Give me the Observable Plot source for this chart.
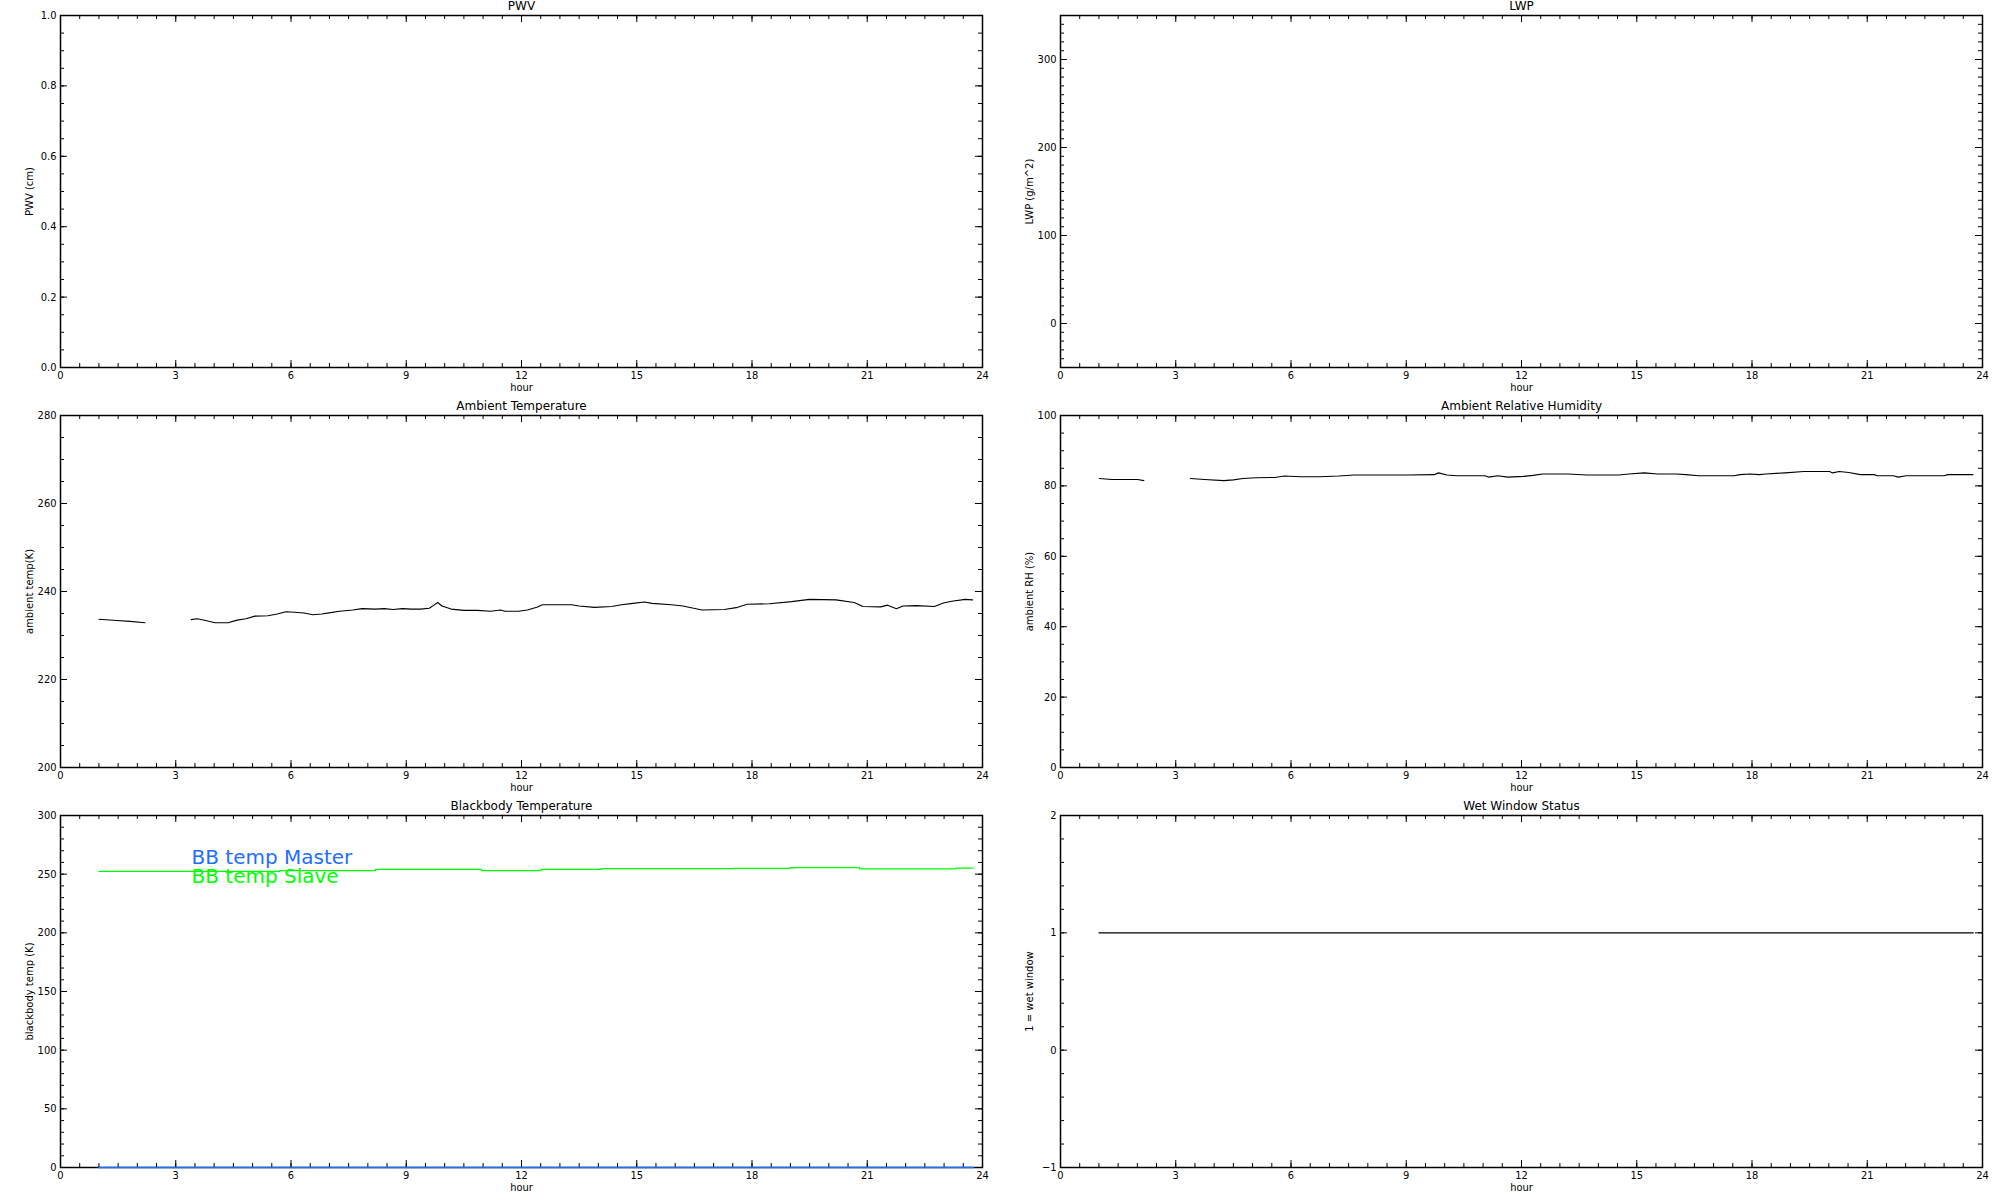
<!DOCTYPE html>
<html><head><meta charset="utf-8">
<script src="https://cdn.jsdelivr.net/npm/d3@7"></script>
<script src="https://cdn.jsdelivr.net/npm/@observablehq/plot@0.6"></script>
<style>
html,body{margin:0;padding:0;background:#fff;}
#grid{display:grid;grid-template-columns:1000px 1000px;grid-template-rows:400px 400px 400px;width:2000px;height:1200px;}
#grid svg{display:block;}
</style></head><body><div id="grid"></div>
<script>
// ---- axis ticks ----
const hourTicks = [0, 3, 6, 9, 12, 15, 18, 21, 24];
const pwvTicks = [0.0, 0.2, 0.4, 0.6, 0.8, 1.0];
const lwpTicks = [0, 100, 200, 300];
const tempTicks = [200, 220, 240, 260, 280];
const rhTicks = [0, 20, 40, 60, 80, 100];
const bbTicks = [0, 50, 100, 150, 200, 250, 300];
const wetTicks = [-1, 0, 1, 2];

// ---- ambient temperature (K) ----
const tempHour = [1.0,1.46,1.81,2.2,2.8,3.4,3.55,3.78,4.02,4.36,4.6,4.83,5.06,5.4,5.64,5.87,6.1,6.34,6.57,6.8,7.03,7.26,7.61,7.85,8.2,8.43,8.66,8.9,9.13,9.37,9.6,9.7,9.82,9.93,10.17,10.5,10.85,11.2,11.45,11.57,11.92,12.15,12.4,12.55,13.3,13.5,13.9,14.35,14.6,14.9,15.2,15.4,15.9,16.2,16.7,17.28,17.63,17.87,18.45,19.03,19.5,20.19,20.66,20.89,21.35,21.53,21.76,21.93,22.28,22.75,22.98,23.2,23.55,23.74];
const tempK = [233.7,233.4,233.2,232.9,null,233.6,233.8,233.4,232.9,232.9,233.5,233.8,234.4,234.5,234.9,235.4,235.3,235.1,234.7,234.9,235.2,235.5,235.8,236.1,236.0,236.1,235.9,236.1,236.0,236.0,236.2,236.8,237.5,236.7,236.0,235.7,235.7,235.5,235.8,235.5,235.5,235.8,236.4,237.0,237.0,236.7,236.4,236.6,237.0,237.3,237.6,237.3,237.0,236.7,235.8,235.9,236.4,237.1,237.2,237.7,238.2,238.1,237.5,236.6,236.5,236.9,236.1,236.7,236.8,236.6,237.4,237.8,238.2,238.1];

// ---- ambient relative humidity (%) ----
const rhHour = [1.01,1.34,2.01,2.17,2.8,3.38,3.75,4.25,4.5,4.75,5.08,5.58,5.83,6.24,6.74,7.24,7.65,8.4,9.06,9.73,9.84,10.06,10.31,11.05,11.14,11.38,11.64,12.05,12.3,12.55,13.21,13.71,14.54,14.79,15.2,15.54,16.03,16.28,16.61,17.53,17.69,17.94,18.19,18.36,18.86,19.35,20.02,20.1,20.27,20.52,20.82,21.18,21.26,21.68,21.81,22.01,23.0,23.09,23.75];
const rhPct = [82.1,81.8,81.8,81.5,null,82.1,81.8,81.5,81.7,82.1,82.3,82.4,82.8,82.6,82.6,82.8,83.1,83.1,83.1,83.2,83.7,83.1,82.9,82.9,82.5,82.9,82.5,82.7,83.0,83.4,83.4,83.1,83.1,83.4,83.7,83.4,83.4,83.2,82.9,82.9,83.2,83.4,83.2,83.4,83.7,84.1,84.1,83.7,84.1,83.8,83.2,83.2,82.9,82.9,82.5,82.9,82.9,83.2,83.2];

// ---- blackbody temperatures (K) ----
const bbSlaveHour = [1.0,5.7,8.2,10.96,12.52,14.07,17.5,19.0,20.8,23.3,23.76];
const bbSlaveK = [252.3,253.1,254.0,253.1,254.0,254.8,255.0,255.6,254.5,255.2,255.2];
const bbMasterHour = [1.0,23.76];
const bbMasterK = [0,0];
const legendLabels = ["BB temp Master","BB temp Slave"];
const legendColors = ["#1e6eff","#00ff00"];

// ---- wet window status ----
const wetHour = [1.0,23.76];
const wetFlag = [1,1];

const FONT = "'Liberation Sans Narrow','DejaVu Sans Condensed','Liberation Sans',sans-serif";
const LABFONT = "'DejaVu Sans','Liberation Sans',sans-serif";
const zip = (xs, ys) => xs.map((h, i) => ({h, v: ys[i]}));

function panel({title, ylabel, yDomain, yTicks, yMinorStep, yFormat, marks = []}) {
  const W = 1000, H = 400, ML = 60, MR = 18, MT = 15, MB = 33;
  const fw = W - ML - MR, fh = H - MT - MB;
  const minorX = d3.range(0, 24.0001, 0.5);
  const minorY = d3.range(yDomain[0], yDomain[1] + yMinorStep * 0.001, yMinorStep);
  return Plot.plot({
    width: W, height: H, marginLeft: ML, marginRight: MR, marginTop: MT, marginBottom: MB,
    style: {fontFamily: FONT, fontSize: "11px", background: "white", overflow: "visible", color: "black"},
    x: {domain: [0, 24]},
    y: {domain: yDomain},
    marks: [
      Plot.tickX(minorX, {x: d => d, insetTop: fh - 4, stroke: "black"}),
      Plot.tickX(minorX, {x: d => d, insetBottom: fh - 4, stroke: "black"}),
      Plot.tickX(hourTicks, {x: d => d, insetTop: fh - 7, stroke: "black"}),
      Plot.tickX(hourTicks, {x: d => d, insetBottom: fh - 7, stroke: "black"}),
      Plot.tickY(minorY, {y: d => d, insetRight: fw - 4, stroke: "black"}),
      Plot.tickY(minorY, {y: d => d, insetLeft: fw - 4, stroke: "black"}),
      Plot.tickY(yTicks, {y: d => d, insetRight: fw - 7, stroke: "black"}),
      Plot.tickY(yTicks, {y: d => d, insetLeft: fw - 7, stroke: "black"}),
      Plot.frame({stroke: "black", strokeWidth: 1.5}),
      Plot.axisX({ticks: hourTicks, tickSize: 0, tickPadding: 4, label: null, fontSize: 11}),
      Plot.axisY({ticks: yTicks, tickSize: 0, tickPadding: 4, label: null, tickFormat: yFormat, fontSize: 11}),
      Plot.text([title], {text: d => d, frameAnchor: "top", lineAnchor: "middle", textAnchor: "middle", dy: -9, fontSize: 12, fontFamily: LABFONT, fill: "black"}),
      Plot.text(["hour"], {text: d => d, frameAnchor: "bottom", lineAnchor: "middle", textAnchor: "middle", dy: 20, fontSize: 11, fill: "black"}),
      Plot.text([ylabel], {text: d => d, frameAnchor: "left", lineAnchor: "middle", textAnchor: "middle", dx: -31, rotate: -90, fontSize: 10, fontFamily: LABFONT, fill: "black"}),
      ...marks
    ]
  });
}

const fmt1 = d3.format(".1f");
const fmt0 = d3.format("d");
const grid = document.getElementById("grid");

grid.append(panel({title: "PWV", ylabel: "PWV (cm)", yDomain: [0, 1], yTicks: pwvTicks, yMinorStep: 0.05, yFormat: fmt1}));
grid.append(panel({title: "LWP", ylabel: "LWP (g/m^2)", yDomain: [-50, 350], yTicks: lwpTicks, yMinorStep: 10, yFormat: fmt0}));
grid.append(panel({title: "Ambient Temperature", ylabel: "ambient temp(K)", yDomain: [200, 280], yTicks: tempTicks, yMinorStep: 5, yFormat: fmt0,
  marks: [Plot.line(zip(tempHour, tempK), {x: "h", y: "v", stroke: "black", strokeWidth: 1.1})]}));
grid.append(panel({title: "Ambient Relative Humidity", ylabel: "ambient RH (%)", yDomain: [0, 100], yTicks: rhTicks, yMinorStep: 5, yFormat: fmt0,
  marks: [Plot.line(zip(rhHour, rhPct), {x: "h", y: "v", stroke: "black", strokeWidth: 1.1})]}));
grid.append(panel({title: "Blackbody Temperature", ylabel: "blackbody temp (K)", yDomain: [0, 300], yTicks: bbTicks, yMinorStep: 10, yFormat: fmt0,
  marks: [
    Plot.line(zip(bbMasterHour, bbMasterK), {x: "h", y: "v", stroke: legendColors[0], strokeWidth: 1.5}),
    Plot.line(zip(bbSlaveHour, bbSlaveK), {x: "h", y: "v", stroke: legendColors[1], strokeWidth: 1.2, curve: "step-after"}),
    Plot.text([legendLabels[0]], {text: d => d, frameAnchor: "top-left", lineAnchor: "middle", textAnchor: "start", dx: 131, dy: 42, fontSize: 20, fontFamily: LABFONT, fill: legendColors[0]}),
    Plot.text([legendLabels[1]], {text: d => d, frameAnchor: "top-left", lineAnchor: "middle", textAnchor: "start", dx: 131, dy: 61, fontSize: 20, fontFamily: LABFONT, fill: legendColors[1]})
  ]}));
grid.append(panel({title: "Wet Window Status", ylabel: "1 = wet window", yDomain: [-1, 2], yTicks: wetTicks, yMinorStep: 0.2, yFormat: fmt0,
  marks: [Plot.line(zip(wetHour, wetFlag), {x: "h", y: "v", stroke: "black", strokeWidth: 1.1})]}));
</script></body></html>
